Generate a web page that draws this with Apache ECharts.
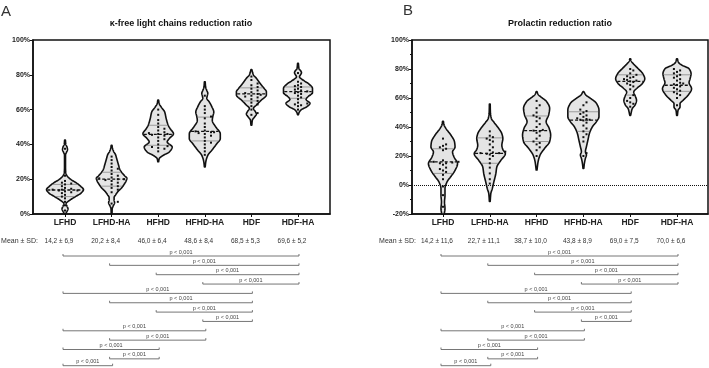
<!DOCTYPE html>
<html><head><meta charset="utf-8">
<script src="https://cdn.jsdelivr.net/npm/echarts@6/dist/echarts.min.js"></script>
<style>html,body{margin:0;padding:0;background:#fff}#c{width:709px;height:368px}</style>
</head><body><div id="c"></div>
<script>
// ---------- DATA ----------
const categories = ['LFHD', 'LFHD-HA', 'HFHD', 'HFHD-HA', 'HDF', 'HDF-HA'];
const titleA = 'κ-free light chains reduction ratio';
const titleB = 'Prolactin reduction ratio';
const meanLabel = 'Mean ± SD:';

// individual patient values (%) - panel A (kappa FLC)
const kappaLFHD   = [37.5, 22, 19, 18, 17.5, 17, 16, 15, 14.5, 14, 14, 13.5, 13.5, 13, 12.5, 12, 11, 10, 9, 7, 5, 2];
const kappaLFHDHA = [33, 31, 29, 27, 26, 25, 23, 22, 21, 20.5, 20, 20, 19.5, 19, 18, 17, 16, 15, 14, 12.5, 7, 6];
const kappaHFHD   = [60, 57, 54, 52, 50, 49, 48, 47, 46.5, 46, 46, 45.5, 45, 44, 43, 42, 40, 39, 38.5, 38, 37.5, 36];
const kappaHFHDHA = [68, 62, 60, 58, 56, 55, 52, 50, 48, 47.5, 47, 47, 46.5, 46, 45, 44, 42, 41, 40, 38, 36, 34];
const kappaHDF    = [79, 77, 75, 74, 73, 72, 71, 70, 69.5, 69, 68.5, 68, 67.5, 67, 66, 65, 64, 63, 62, 60, 58, 57];
const kappaHDFHA  = [81, 76, 75, 74, 73.5, 73, 72, 71.5, 71, 70.5, 70, 69.5, 69, 68, 67, 66, 64, 63.5, 63, 62.5, 62, 60];
// panel B (prolactin)
const prlLFHD   = [32, 28, 27, 26, 25, 24, 17, 16, 16, 15.5, 15, 15, 14, 12, 11, 10, 9, 7, 4, -1, -7, -15];
const prlLFHDHA = [37, 34, 33, 32, 31, 30, 28, 26, 24, 23, 22.5, 22, 22, 21.5, 21, 20, 18, 15, 12, 8, 4, 1];
const prlHFHD   = [58, 55, 53, 50, 48, 47, 46, 44, 42, 40, 38, 37.5, 37, 36, 34, 32, 30, 29, 28, 26, 24, 20];
const prlHFHDHA = [57, 55, 52, 51, 50, 49, 48, 47, 46, 45.5, 45, 45, 44.5, 43, 41, 39, 37, 35, 33, 30, 22, 20];
const prlHDF    = [80, 79, 77, 76, 75, 74.5, 74, 73, 72.5, 72, 71.5, 71, 70, 69, 68, 66, 62, 60, 58, 57, 56, 54];
const prlHDFHA  = [80, 79, 78, 77, 76, 75, 74, 73, 72, 70.5, 70, 69.5, 69, 68, 67, 66, 65, 64, 63, 62, 60, 55];

// quartile lines
const kappaQ1 = [10, 16, 39.5, 42, 65, 66.5];
const kappaMedian = [13.8, 20, 45.8, 47.5, 69, 70.3];
const kappaQ3 = [17, 24, 51, 55.7, 72.5, 73];
const prlQ1 = [8, 15, 30, 37, 62, 64.6];
const prlMedian = [15.9, 21.8, 37.5, 44.8, 71.5, 68.8];
const prlQ3 = [25, 32.5, 47.6, 50.5, 76, 76];

// violin density profiles: [value %, relative density]
const kappaDensLFHD = [[0,0.4],[1.5,2],[3,3],[4.5,2],[6,1.2],[8,5],[10,10.5],[12,16],[14,18.5],[16,15.5],[18,11],[20,5.5],[22,2],[24,0.7],[27,0.5],[34,0.5],[35.5,1.5],[37,2.5],[38.5,2],[40,0.8],[42.5,0.4]];
const kappaDensLFHDHA = [[0,0.4],[3,0.6],[4.5,1.5],[6.5,3],[8,2.5],[9.5,2.5],[11,4],[13,6.5],[15,10],[17,12.5],[19,14.5],[20.5,15.3],[22,13],[24,10],[26,8],[28,7],[30,6],[32,5],[34,4],[36,2],[38,0.8],[39.5,0.4]];
const kappaDensHFHD = [[30,0.4],[31.8,1],[33.7,5],[35.6,11],[38.5,14],[41.4,9],[43.3,11],[46.1,15.3],[49,12],[51,10],[54.8,8],[58.6,6.5],[61.5,3],[63.5,1],[65.5,0.4]];
const kappaDensHFHDHA = [[27,0.4],[30,1],[33.7,3],[36.6,7],[40.4,12],[43.3,15.5],[46.1,15.5],[50,11],[53.8,7.5],[56,8],[58.6,9],[61.7,7],[64.4,4.5],[66.5,2],[68,2.5],[69.4,3],[71,2],[73,0.8],[76,0.4]];
const kappaDensHDF = [[51,0.4],[54,1],[55.6,3],[57.5,5],[58.8,4],[60.7,2],[62.6,5],[65.5,10],[68.4,15],[70.3,15],[72,13],[74.1,10],[76,7.5],[78,5],[80,2],[83,0.4]];
const kappaDensHDFHA = [[57,0.4],[58.2,1],[59.8,3],[61.7,9],[63.6,12],[65.9,8],[67.4,10],[69.7,14.5],[72.2,14.5],[74.7,11],[76.6,6],[78.9,1.5],[80,2.5],[81.2,3.5],[82.5,2.5],[83.5,1],[86.6,0.4]];
const prlDensLFHD = [[-20,1.2],[-16.3,2],[-11.7,1.5],[-7.1,2],[-2.5,2],[2.1,4],[5.5,7.5],[10.1,12],[14.7,14.5],[19.3,11],[22.8,9.5],[26.2,12],[29.7,11.5],[34.3,8],[38.9,3],[41.5,1],[44,0.4]];
const prlDensLFHDHA = [[-11.3,0.4],[-6,1],[-2.5,2.5],[2,4],[7.8,6],[12.4,7],[17,11],[21.6,15.5],[24.5,13],[27.4,12],[32,13],[35.4,12],[38.9,9],[43.4,4],[46,1.5],[50,0.6],[55.9,0.4]];
const prlDensHFHD = [[10.3,0.4],[16.1,1.5],[20.7,3.5],[25.3,8],[29.9,13],[34.5,14],[39.1,12.5],[43.7,9.5],[48.3,12],[52.9,13],[57.5,10],[60.9,4],[62.5,1.5],[64.4,0.4]];
const prlDensHFHDHA = [[11.5,0.4],[15,1],[18.4,2],[20.7,3],[23,2],[26.4,3],[31,4.5],[35.6,6],[40.2,9],[43.7,13],[47.1,15.5],[51.7,15.5],[56.3,13],[59.8,7],[62,2.5],[64.4,0.4]];
const prlDensHDF = [[48,0.4],[52.6,2],[55.4,5],[58.4,6.3],[61.4,5],[64.1,3.5],[66.9,7],[69.9,12],[73.3,14.5],[76.8,12.5],[80.2,8],[83.7,3],[85.5,1],[87.1,0.4]];
const prlDensHDFHA = [[48,0.4],[51.5,1],[53.8,3],[56.1,3],[58.4,6],[61.9,11],[66.4,14.5],[70.6,12],[73.3,13],[76.8,14],[80.2,12],[82.6,5],[84.5,1.5],[87.1,0.4]];

const kappaMeanSD = ['14,2 ± 6,9', '20,2 ± 8,4', '46,0 ± 6,4', '48,6 ± 8,4', '68,5 ± 5,3', '69,6 ± 5,2'];
const prlMeanSD = ['14,2 ± 11,6', '22,7 ± 11,1', '38,7 ± 10,0', '43,8 ± 8,9', '69,0 ± 7,5', '70,0 ± 6,6'];

const comparisons = [[0,5],[1,5],[2,5],[3,5],[0,4],[1,4],[2,4],[3,4],[0,3],[1,3],[0,2],[1,2],[0,1]];
const pValues = ['p < 0,001','p < 0,001','p < 0,001','p < 0,001','p < 0,001','p < 0,001','p < 0,001','p < 0,001','p < 0,001','p < 0,001','p < 0,001','p < 0,001','p < 0,001'];

// ---------- BUILD ----------
const FONT = '"Liberation Sans", Arial, sans-serif';
const kappaPoints = [kappaLFHD, kappaLFHDHA, kappaHFHD, kappaHFHDHA, kappaHDF, kappaHDFHA];
const prlPoints = [prlLFHD, prlLFHDHA, prlHFHD, prlHFHDHA, prlHDF, prlHDFHA];
const kappaDens = [kappaDensLFHD, kappaDensLFHDHA, kappaDensHFHD, kappaDensHFHDHA, kappaDensHDF, kappaDensHDFHA];
const prlDens = [prlDensLFHD, prlDensLFHDHA, prlDensHFHD, prlDensHFHDHA, prlDensHDF, prlDensHDFHA];

const REF_BAND = 46.6;

// monotone cubic (Fritsch-Carlson) outline of a profile, for smooth drawing
function smoothProfile(prof, steps) {
  const n = prof.length;
  const xs = prof.map(function (p) { return p[0]; });
  const ys = prof.map(function (p) { return p[1]; });
  const dl = [], sl = [];
  for (let k = 0; k < n - 1; k++) { dl.push(xs[k+1] - xs[k]); sl.push((ys[k+1] - ys[k]) / dl[k]); }
  const m = new Array(n);
  m[0] = sl[0]; m[n-1] = sl[n-2];
  for (let k = 1; k < n - 1; k++) {
    if (sl[k-1] * sl[k] <= 0) m[k] = 0;
    else m[k] = 2 / (1 / sl[k-1] + 1 / sl[k]);
  }
  const out = [];
  for (let k = 0; k < n - 1; k++) {
    const h = dl[k];
    for (let s = 0; s < steps; s++) {
      const t = s / steps;
      const h00 = 2*t*t*t - 3*t*t + 1, h10 = t*t*t - 2*t*t + t, h01 = -2*t*t*t + 3*t*t, h11 = t*t*t - t*t;
      out.push([xs[k] + t * h, Math.max(0.3, h00*ys[k] + h10*h*m[k] + h01*ys[k+1] + h11*h*m[k+1])]);
    }
  }
  out.push([xs[n-1], ys[n-1]]);
  return out;
}

function widthAt(prof, v) {
  if (v <= prof[0][0]) return prof[0][1];
  for (let k = 1; k < prof.length; k++) {
    if (v <= prof[k][0]) {
      const t = (v - prof[k-1][0]) / (prof[k][0] - prof[k-1][0]);
      return prof[k-1][1] + t * (prof[k][1] - prof[k-1][1]);
    }
  }
  return prof[prof.length-1][1];
}

function violinRender(points, dens, q1, med, q3) {
  return function (params, api) {
    const i = api.value(0);
    const prof = smoothProfile(dens[i], 8);
    const unit = api.size([1, 0])[0];
    const sc = unit / REF_BAND;
    const right = [], left = [];
    prof.forEach(function (pw) {
      const p = api.coord([i, pw[0]]);
      right.push([p[0] + pw[1] * sc, p[1]]);
      left.push([p[0] - pw[1] * sc, p[1]]);
    });
    const poly = right.concat(left.reverse());
    const children = [{
      type: 'polygon',
      shape: { points: poly },
      style: { fill: '#e4e4e4', stroke: '#111', lineWidth: 1.6, lineJoin: 'round' }
    }];
    [q1[i], q3[i]].forEach(function (v) {
      const p = api.coord([i, v]);
      const w = widthAt(prof, v) * sc - 0.8;
      children.push({ type: 'line', shape: { x1: p[0] - w, y1: p[1], x2: p[0] + w, y2: p[1] },
        style: { stroke: '#888', lineWidth: 0.8 } });
    });
    const pm = api.coord([i, med[i]]);
    const wm = widthAt(prof, med[i]) * sc - 0.8;
    children.push({ type: 'line', shape: { x1: pm[0] - wm, y1: pm[1], x2: pm[0] + wm, y2: pm[1] },
      style: { stroke: '#111', lineWidth: 1.3, lineDash: [3, 2] } });
    // dots (simple beeswarm)
    const d = 3.1;
    const placed = [];
    points[i].slice().sort(function (a, b) { return a - b; }).forEach(function (v) {
      const p = api.coord([i, v]);
      let off = 0;
      for (let k = 0; k < 30; k++) {
        const cand = k === 0 ? 0 : (k % 2 ? 1 : -1) * Math.ceil(k / 2) * d;
        const ok = placed.every(function (q) {
          return Math.abs(q[1] - p[1]) >= d || Math.abs(q[0] - (p[0] + cand)) >= d;
        });
        if (ok) { off = cand; break; }
      }
      placed.push([p[0] + off, p[1]]);
    });
    placed.forEach(function (q) {
      children.push({ type: 'rect', shape: { x: q[0] - 1, y: q[1] - 1, width: 2, height: 2 },
        style: { fill: '#111' } });
    });
    return { type: 'group', children: children };
  };
}

function annotRender(meanSD) {
  return function (params, api) {
    const cs = params.coordSys;
    const bottom = cs.y + cs.height;
    const cx = function (k) { return api.coord([k, 0])[0]; };
    const children = [];
    const meanY = bottom + 27;
    children.push({ type: 'text', x: cx(0) - 27, y: meanY,
      style: { text: meanLabel, align: 'right', verticalAlign: 'middle', font: '7px ' + FONT, fill: '#333' } });
    meanSD.forEach(function (t, k) {
      children.push({ type: 'text', x: cx(k) - 6, y: meanY,
        style: { text: t, align: 'center', verticalAlign: 'middle', font: '6.5px ' + FONT, fill: '#333' } });
    });
    comparisons.forEach(function (pair, r) {
      let y = bottom + 42 + r * 9.35;
      if (r === comparisons.length - 1) y = Math.min(y, bottom + 151.7);
      const x1 = cx(pair[0]) - 2, x2 = cx(pair[1]) + 1;
      children.push({ type: 'polyline', shape: { points: [[x1, y - 2], [x1, y], [x2, y], [x2, y - 2]] },
        style: { stroke: '#666', lineWidth: 0.9, fill: null } });
      children.push({ type: 'text', x: (x1 + x2) / 2, y: y - 4,
        style: { text: pValues[r], align: 'center', verticalAlign: 'middle', font: '5.5px ' + FONT, fill: '#444' } });
    });
    return { type: 'group', children: children };
  };
}

function xAxisCfg(gridIndex, min, max) {
  const ticks = categories.map(function (c, k) { return k; });
  return {
    type: 'value', gridIndex: gridIndex, min: min, max: max,
    splitLine: { show: false },
    axisLine: { show: true, onZero: false, lineStyle: { color: '#111', width: 1.5 } },
    axisTick: { show: true, customValues: ticks, length: 3, lineStyle: { color: '#111', width: 1 } },
    axisLabel: { customValues: ticks, formatter: function (v) { return categories[Math.round(v)]; },
      fontSize: 8.5, fontWeight: 'bold', color: '#222', fontFamily: FONT, margin: 4 }
  };
}
function yAxisCfg(gridIndex, min, max, minor) {
  return {
    type: 'value', gridIndex: gridIndex, min: min, max: max, interval: 20,
    splitLine: { show: false },
    axisLine: { show: true, onZero: false, lineStyle: { color: '#111', width: 1.5 } },
    axisTick: { show: true, length: 3, lineStyle: { color: '#111', width: 1 } },
    minorTick: { show: minor, splitNumber: 2, length: 2, lineStyle: { color: '#111', width: 1 } },
    axisLabel: { formatter: '{value}%', fontSize: 7, fontWeight: 'bold', color: '#222', fontFamily: FONT, margin: 3 }
  };
}

const catIdx = categories.map(function (c, k) { return [k, 0]; });

const option = {
  animation: false,
  backgroundColor: '#fff',
  grid: [
    { left: 33, top: 40, width: 297, height: 174, show: true, borderColor: '#111', borderWidth: 1.5, backgroundColor: 'transparent' },
    { left: 412, top: 40, width: 296, height: 174, show: true, borderColor: '#111', borderWidth: 1.5, backgroundColor: 'transparent' }
  ],
  xAxis: [xAxisCfg(0, -0.687, 5.687), xAxisCfg(1, -0.662, 5.662)],
  yAxis: [yAxisCfg(0, 0, 100, false), yAxisCfg(1, -20, 100, true)],
  graphic: [
    { type: 'text', x: 1, y: 4, style: { text: 'A', font: '15px ' + FONT, fill: '#333' } },
    { type: 'text', x: 403, y: 3, style: { text: 'B', font: '15px ' + FONT, fill: '#333' } },
    { type: 'text', x: 181, y: 24, style: { text: titleA, align: 'center', verticalAlign: 'middle', font: 'bold 9px ' + FONT, fill: '#111' } },
    { type: 'text', x: 560, y: 24, style: { text: titleB, align: 'center', verticalAlign: 'middle', font: 'bold 9px ' + FONT, fill: '#111' } }
  ],
  series: [
    { type: 'line', xAxisIndex: 1, yAxisIndex: 1, data: [], z: 1,
      markLine: { silent: true, symbol: 'none', label: { show: false },
        lineStyle: { color: '#111', type: 'dotted', width: 1 }, data: [{ yAxis: 0 }] } },
    { type: 'custom', xAxisIndex: 0, yAxisIndex: 0, z: 3, data: catIdx,
      renderItem: violinRender(kappaPoints, kappaDens, kappaQ1, kappaMedian, kappaQ3) },
    { type: 'custom', xAxisIndex: 1, yAxisIndex: 1, z: 3, data: catIdx,
      renderItem: violinRender(prlPoints, prlDens, prlQ1, prlMedian, prlQ3) },
    { type: 'custom', xAxisIndex: 0, yAxisIndex: 0, z: 3, data: [[0, 0]],
      renderItem: annotRender(kappaMeanSD) },
    { type: 'custom', xAxisIndex: 1, yAxisIndex: 1, z: 3, data: [[0, 0]],
      renderItem: annotRender(prlMeanSD) }
  ]
};
const chart = echarts.init(document.getElementById('c'), null, { renderer: 'canvas' });
chart.setOption(option);
</script></body></html>
